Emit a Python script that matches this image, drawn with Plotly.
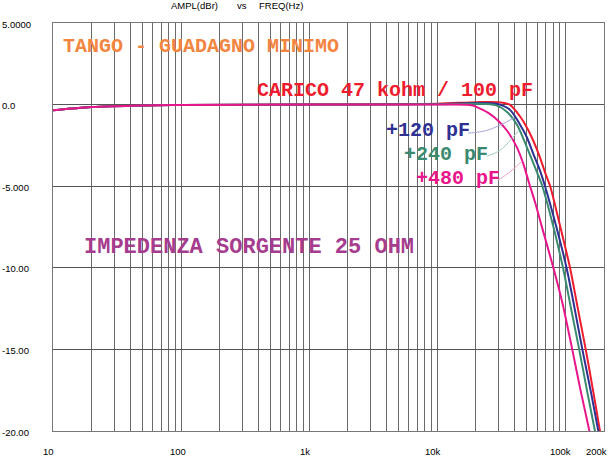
import math
import plotly.graph_objects as go

# ---------------- data ----------------
f_red = [10, 20, 50, 100, 1000, 10000, 20000, 30000, 36700, 44000, 50000, 56000,
         63000, 70000, 76000, 90000, 108600, 125000, 144000, 165000, 186000, 200000]
db_red = [-0.35, -0.15, -0.05, -0.02, 0.0, 0.05, 0.15, 0.15, 0.0, -0.7, -1.4, -2.2,
          -3.2, -4.25, -5.0, -7.3, -10.0, -12.5, -15.0, -17.6, -20.0, -21.4]

f_blue = [10, 20, 50, 100, 1000, 10000, 20000, 28800, 36700, 44000, 50000, 56000,
          63000, 69300, 85000, 102000, 118000, 135500, 158000, 180600, 200000]
db_blue = [-0.35, -0.15, -0.05, -0.02, 0.0, 0.03, 0.1, 0.05, -0.3, -1.2, -2.0, -3.0,
           -4.0, -5.0, -7.5, -10.0, -12.5, -15.0, -17.6, -20.0, -21.8]

f_green = [10, 20, 50, 100, 1000, 10000, 20000, 28800, 35000, 42000, 47000, 53000,
           60000, 66000, 80000, 95700, 110000, 128000, 148000, 170000, 200000]
db_green = [-0.35, -0.15, -0.05, -0.02, 0.0, 0.02, 0.05, -0.05, -0.45, -1.25, -2.1, -3.1,
            -4.15, -5.0, -7.4, -10.0, -12.4, -15.0, -17.6, -20.0, -22.9]

f_mag = [10, 20, 50, 100, 1000, 10000, 18900, 21600, 25500, 30000, 35400, 42000, 47000,
         52000, 58000, 65000, 80500, 95000, 113000, 132000, 153800, 200000]
db_mag = [-0.35, -0.15, -0.05, -0.02, 0.0, 0.0, -0.05, -0.25, -0.55, -1.0, -1.65, -2.65, -3.65,
          -4.8, -6.0, -7.4, -10.0, -12.2, -15.0, -17.6, -20.0, -24.5]

# leader lines from the labels to the curves
lead120_f = [17400, 24900, 40000]
lead120_db = [-1.75, -1.56, -0.8]
lead240_f = [24400, 30900, 43500]
lead240_db = [-3.16, -2.8, -1.55]
lead480_f = [29800, 36700, 46000]
lead480_db = [-4.63, -4.14, -3.45]

x_tick_vals = [10, 100, 1000, 10000, 100000, 200000]
x_tick_text = ["10", "100", "1k", "10k", "100k", "200k"]
y_tick_vals = [5, 0, -5, -10, -15, -20]
y_tick_text = ["5.0000", "0.0", "-5.000", "-10.00", "-15.00", "-20.00"]

# ---------------- styling ----------------
RED = "#ee1c2e"
BLUE = "#2e3192"
GREEN = "#3a8a70"
MAG = "#e8168c"
LABEL_FONT = "Liberation Sans, Arial, sans-serif"
MONO = "Liberation Mono, Courier New, monospace"
x_label_shift = [-5, -3, -4, -4, -5, -8]

fig = go.Figure()

series = [(f_red, db_red, RED), (f_blue, db_blue, BLUE),
          (f_green, db_green, GREEN), (f_mag, db_mag, MAG)]
for fx, dy, col in series:
    fig.add_trace(go.Scatter(x=fx, y=dy, mode="lines",
                             line=dict(color=col, width=2, shape="spline", smoothing=0.8),
                             hoverinfo="skip", showlegend=False))

for fx, dy, col in [(lead120_f, lead120_db, "#a8a8dc"),
                    (lead240_f, lead240_db, "#9fd0b8"),
                    (lead480_f, lead480_db, "#f4a6cc")]:
    fig.add_trace(go.Scatter(x=fx, y=dy, mode="lines",
                             line=dict(color=col, width=1, shape="spline"),
                             hoverinfo="skip", showlegend=False))

# grid positions: 1..9 per decade up to 200k
grid_x = []
for dec in [10, 100, 1000, 10000, 100000]:
    for m in range(1, 10):
        v = dec * m
        if v <= 200000:
            grid_x.append(v)
grid_x.append(200000)

fig.update_xaxes(type="log", range=[1, math.log10(200000)],
                 tickvals=grid_x, showticklabels=False, ticks="",
                 showgrid=True, gridcolor="#6a6a6a", gridwidth=1,
                 showline=True, linecolor="#777777", linewidth=1, mirror=True,
                 zeroline=False)
fig.update_yaxes(range=[-20, 5], tickvals=y_tick_vals, showticklabels=False, ticks="",
                 showgrid=True, gridcolor="#555555", gridwidth=1,
                 showline=True, linecolor="#777777", linewidth=1, mirror=True,
                 zeroline=False)

ann = []
# x tick labels
for v, t, sh in zip(x_tick_vals, x_tick_text, x_label_shift):
    ann.append(dict(x=math.log10(v), y=0, xref="x", yref="paper", text=t,
                    showarrow=False, xanchor="center", yanchor="top",
                    yshift=-13, xshift=sh,
                    font=dict(family=LABEL_FONT, size=9.5, color="#000000")))
# y tick labels (left aligned at the window edge)
for v, t in zip(y_tick_vals, y_tick_text):
    ann.append(dict(x=-53 / 551, y=v, xref="paper", yref="y", text=t,
                    showarrow=False, xanchor="left", yanchor="middle", yshift=-1,
                    font=dict(family=LABEL_FONT, size=9.5, color="#000000")))
# header
for px, t in [(169, "AMPL(dBr)"), (235, "vs"), (257, "FREQ(Hz)")]:
    ann.append(dict(x=(px - 53) / 551, y=(431 - 6) / 408, xref="paper", yref="paper",
                    text=t, showarrow=False, xanchor="left", yanchor="middle",
                    font=dict(family=LABEL_FONT, size=9.5, color="#000000")))
# chart texts
texts = [
    ("TANGO - GUADAGNO MINIMO", 61, 46, 20, "#f28540"),
    ("CARICO 47 kohm / 100 pF", 255, 91, 20, RED),
    ("+120 pF", 384, 131, 20, BLUE),
    ("+240 pF", 402, 155, 20, GREEN),
    ("+480 pF", 414, 178, 20, MAG),
    ("IMPEDENZA SORGENTE 25 OHM", 82, 247, 22, "#a63c8e"),
]
for t, px, py, sz, col in texts:
    ann.append(dict(x=(px - 53) / 551, y=(431 - py) / 408, xref="paper", yref="paper",
                    text="<b>" + t + "</b>", showarrow=False, xanchor="left", yanchor="middle",
                    font=dict(family=MONO, size=sz, color=col)))

fig.update_layout(width=609, height=456,
                  margin=dict(l=53, r=5, t=23, b=25),
                  paper_bgcolor="white", plot_bgcolor="white",
                  annotations=ann, showlegend=False)

fig.write_html("out.html", config={"displayModeBar": False},
               post_script="document.body.style.margin='0';document.body.style.overflow='hidden';")
